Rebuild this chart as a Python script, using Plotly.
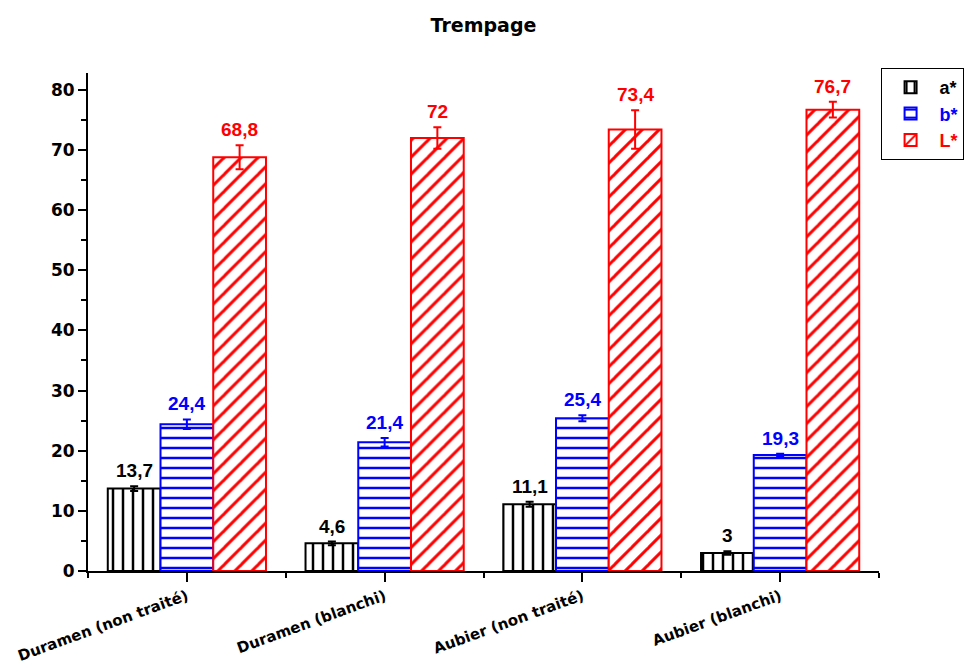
import plotly.graph_objects as go
import numpy as np

categories = ["Duramen (non traité)", "Duramen (blanchi)", "Aubier (non traité)", "Aubier (blanchi)"]

a_star = [13.7, 4.6, 11.1, 3.0]
a_err = [0.4, 0.3, 0.4, 0.3]
b_star = [24.4, 21.4, 25.4, 19.3]
b_err = [0.8, 0.7, 0.5, 0.2]
L_star = [68.8, 72.0, 73.4, 76.7]
L_err = [2.0, 1.8, 3.2, 1.3]

y_ticks = [0, 10, 20, 30, 40, 50, 60, 70, 80]

series = [
    dict(name="a*", values=a_star, errors=a_err, color="#000000", shape="|", size=10),
    dict(name="b*", values=b_star, errors=b_err, color="#0000FF", shape="-", size=10),
    dict(name="L*", values=L_star, errors=L_err, color="#FF0000", shape="/", size=12),
]

FONT = "DejaVu Sans"
LFONT = "Liberation Sans"
idx = np.arange(len(categories))
group_width = 0.8
bar_w = group_width / len(series)

fig = go.Figure()
annotations = []
for k, s in enumerate(series):
    xs = idx + (k - (len(series) - 1) / 2) * bar_w
    fig.add_trace(go.Bar(
        x=xs, y=s["values"], width=bar_w,
        name=f"<span style='color:{s['color']}'>{s['name']}</span>",
        marker=dict(
            color="white",
            line=dict(color=s["color"], width=2),
            pattern=dict(shape=s["shape"], fgcolor=s["color"], bgcolor="white",
                         size=s["size"], solidity=0.25, fgopacity=1, fillmode="overlay"),
        ),
        error_y=dict(type="data", array=s["errors"], visible=True,
                     color=s["color"], thickness=2, width=4),
    ))
    for x, v, e in zip(xs, s["values"], s["errors"]):
        annotations.append(dict(
            x=x, y=v + e, xref="x", yref="y", yanchor="bottom", yshift=3,
            text=f"{v:g}".replace(".", ","), showarrow=False,
            font=dict(family=LFONT, size=19, color=s["color"], weight="bold"),
        ))

# the page adds an 8px body margin; compensate so the plot lands where the reference has it
W, H = 969, 662
ML, MR, MT, MB = 80, 98, 65, 99
fig.update_layout(
    width=W, height=H,
    barmode="overlay",
    plot_bgcolor="white", paper_bgcolor="white",
    margin=dict(l=ML, r=MR, t=MT, b=MB, autoexpand=False),
    title=dict(text="Trempage", x=(ML + 0.5 * (W - ML - MR)) / W, xanchor="center",
               y=1 - 17 / H, yanchor="middle", yref="container",
               font=dict(family=FONT, size=19, color="black", weight="bold")),
    showlegend=True,
    legend=dict(x=1.002, y=1.01, xanchor="left", yanchor="top",
                bordercolor="black", borderwidth=1, bgcolor="white",
                font=dict(family=LFONT, size=18, color="black", weight="bold"),
                itemwidth=48, tracegroupgap=0),
    annotations=annotations,
)

fig.update_xaxes(
    range=[-0.5, len(categories) - 0.5],
    tickmode="array", tickvals=idx, ticktext=categories,
    tickangle=-20, ticklabeloverflow="allow",
    ticks="outside", ticklen=9, tickwidth=2, tickcolor="black",
    showline=True, linecolor="black", linewidth=2,
    showgrid=False, zeroline=False,
    tickfont=dict(family=FONT, size=15, color="black", weight="bold"),
    minor=dict(tickmode="array", tickvals=list(idx - 0.5) + [len(categories) - 0.5],
               ticks="outside", ticklen=5, tickwidth=2, tickcolor="black", showgrid=False),
)
fig.update_yaxes(
    range=[0, 82.8],
    tickmode="array", tickvals=y_ticks,
    ticks="outside", ticklen=8, tickwidth=2, tickcolor="black",
    showline=True, linecolor="black", linewidth=2,
    showgrid=False, zeroline=False,
    tickfont=dict(family=FONT, size=17, color="black", weight="bold"),
    minor=dict(dtick=5, tick0=0, ticks="outside", ticklen=5, tickwidth=2,
               tickcolor="black", showgrid=False),
)

fig.write_html("out.html")
